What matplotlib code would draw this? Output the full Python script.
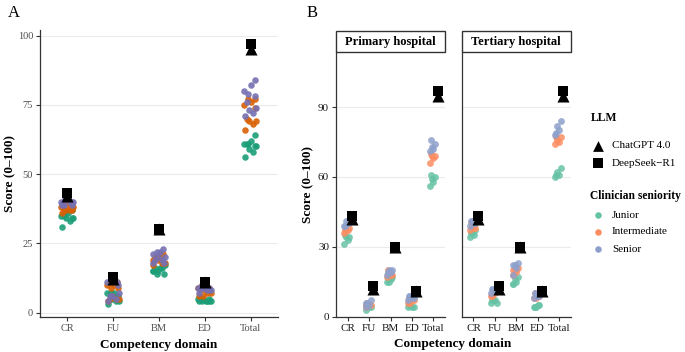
import matplotlib
matplotlib.use("Agg")
import matplotlib.pyplot as plt
from matplotlib.patches import Rectangle

plt.rcParams['font.family'] = ['Liberation Serif', 'DejaVu Serif']

domains = ["CR", "FU", "BM", "ED", "Total"]
seniority = ["Junior", "Intermediate", "Senior"]
hospitals = ["Primary hospital", "Tertiary hospital"]

# clinician scores, one list per domain (CR, FU, BM, ED, Total)
primary_junior = [[31, 33, 34, 34, 35], [3, 4, 5, 4, 5], [15, 16, 15, 17, 16], [4, 4, 5, 4, 5], [56, 58, 59, 60, 61]]
primary_intermediate = [[36, 37, 37, 38, 37], [4, 5, 6, 5, 5], [17, 18, 19, 18, 20], [6, 7, 6, 7, 8], [66, 68, 69, 69, 70]]
primary_senior = [[39, 40, 41, 40, 39], [4, 5, 6, 7, 6], [18, 19, 20, 20, 19], [7, 8, 9, 8, 9], [71, 72, 73, 74, 76]]
tertiary_junior = [[34, 35, 36, 37, 36], [6, 7, 7, 6, 7], [14, 15, 16, 17, 14], [4, 5, 4, 5, 4], [60, 61, 62, 64, 61]]
tertiary_intermediate = [[37, 38, 39, 38, 40], [9, 10, 10, 11, 9], [18, 19, 20, 21, 20], [8, 9, 8, 9, 10], [74, 75, 76, 77, 77]]
tertiary_senior = [[39, 40, 41, 40, 41], [10, 11, 12, 11, 12], [18, 21, 22, 23, 22], [8, 9, 10, 9, 10], [78, 80, 82, 84, 79]]

chatgpt = [42, 12, 30, 11, 95]
deepseek = [43, 13, 30, 11, 97]

groups = {"Primary hospital": [primary_junior, primary_intermediate, primary_senior],
          "Tertiary hospital": [tertiary_junior, tertiary_intermediate, tertiary_senior]}

dark2 = ['#1B9E77', '#D95F02', '#7570B3']
set2 = ['#66C2A5', '#FC8D62', '#8DA0CB']
jit = [-0.12, 0.06, -0.03, 0.13, -0.08, 0.10, -0.14, 0.02, 0.09, -0.05]
gridc = '#EBEBEB'
axc = '#333333'

def style_ax(ax, ticks, show_y=True, tick_fs=8, tcol='#4D4D4D'):
    for s in ['top', 'right']:
        ax.spines[s].set_visible(False)
    for s in ['left', 'bottom']:
        ax.spines[s].set_color(axc)
        ax.spines[s].set_linewidth(0.9)
    ax.set_yticks(ticks)
    ax.yaxis.grid(True, color=gridc, lw=0.8)
    ax.set_axisbelow(True)
    ax.set_xticks(range(1, 6))
    ax.set_xticklabels(domains, fontsize=tick_fs, color=tcol)
    ax.tick_params(length=3, color=axc, pad=2)
    if show_y:
        ax.set_yticklabels([str(t) for t in ticks], fontsize=tick_fs, color=tcol)
    else:
        ax.set_yticklabels([])
        ax.tick_params(axis='y', length=0)

fig = plt.figure(figsize=(6.85, 3.52), dpi=100)

# panel A: all clinicians
axA = fig.add_axes([0.0584, 0.0994, 0.3474, 0.8154])
for k in range(3):
    for d in range(5):
        vals = groups["Primary hospital"][k][d] + groups["Tertiary hospital"][k][d]
        xs = [d + 1 + jit[i] for i in range(len(vals))]
        axA.scatter(xs, vals, s=22, color=dark2[k], alpha=0.9, lw=0, zorder=3)
xd = list(range(1, 6))
axA.scatter(xd, chatgpt, marker='^', s=75, color='black', lw=0, zorder=4)
axA.scatter(xd, deepseek, marker='s', s=50, color='black', lw=0, zorder=4)
axA.set_xlim(0.4, 5.6)
axA.set_ylim(-1.6, 102)
style_ax(axA, [0, 25, 50, 75, 100], tick_fs=7.5)
axA.set_xlabel("Competency domain", fontsize=9.5, fontweight='bold', labelpad=4)
fig.text(0.0155, 0.507, "Score (0\u2013100)", fontsize=9.5, fontweight='bold',
         rotation=90, ha='center', va='center')
fig.text(0.012, 0.962, "A", fontsize=12, va='center')

# panel B: split by hospital
lefts = [0.4905, 0.674]
width = 0.1592
for h, hosp in enumerate(hospitals):
    ax = fig.add_axes([lefts[h], 0.0994, width, 0.7529])
    for k in range(3):
        for d in range(5):
            vals = groups[hosp][k][d]
            xs = [d + 1 - 0.05 + jit[i] for i in range(len(vals))]
            ax.scatter(xs, vals, s=24, color=set2[k], alpha=0.85, lw=0, zorder=3)
    xm = [x + 0.2 for x in xd]
    ax.scatter(xm, chatgpt, marker='^', s=75, color='black', lw=0, zorder=4)
    ax.scatter(xm, deepseek, marker='s', s=50, color='black', lw=0, zorder=4)
    ax.set_xlim(0.45, 5.55)
    ax.set_ylim(-0.2, 113.7)
    style_ax(ax, [0, 30, 60, 90], show_y=(h == 0), tick_fs=8, tcol='#1A1A1A')
    # facet strip
    strip = Rectangle((lefts[h], 0.8523), width, 0.0596, transform=fig.transFigure,
                      facecolor='white', edgecolor='#333333', lw=1.0)
    fig.patches.append(strip)
    fig.text(lefts[h] + width / 2, 0.8821, hosp, fontsize=9, fontweight='bold',
             ha='center', va='center')
fig.text(0.4496, 0.476, "Score (0\u2013100)", fontsize=9.5, fontweight='bold',
         rotation=90, ha='center', va='center')
fig.text(0.661, 0.024, "Competency domain", fontsize=9.5, fontweight='bold', ha='center', va='center')
fig.text(0.448, 0.962, "B", fontsize=12, va='center')

# legends
lax = fig.add_axes([0, 0, 1, 1])
lax.set_xlim(0, 685)
lax.set_ylim(352, 0)
lax.axis('off')
lax.text(591, 118, "LLM", fontsize=8.5, fontweight='bold', va='center')
lax.scatter([598], [146], marker='^', s=60, color='black', lw=0)
lax.text(612, 146, "ChatGPT 4.0", fontsize=8, va='center')
lax.scatter([598], [163], marker='s', s=45, color='black', lw=0)
lax.text(612, 163, "DeepSeek\u2212R1", fontsize=8, va='center')
lax.text(590, 196, "Clinician seniority", fontsize=8.3, fontweight='bold', va='center')
for k, lab in enumerate(seniority):
    y = 215 + 17 * k
    lax.scatter([598], [y], s=22, color=set2[k], lw=0)
    lax.text(612, y, lab, fontsize=8, va='center')

fig.savefig("out.png", dpi=100)
